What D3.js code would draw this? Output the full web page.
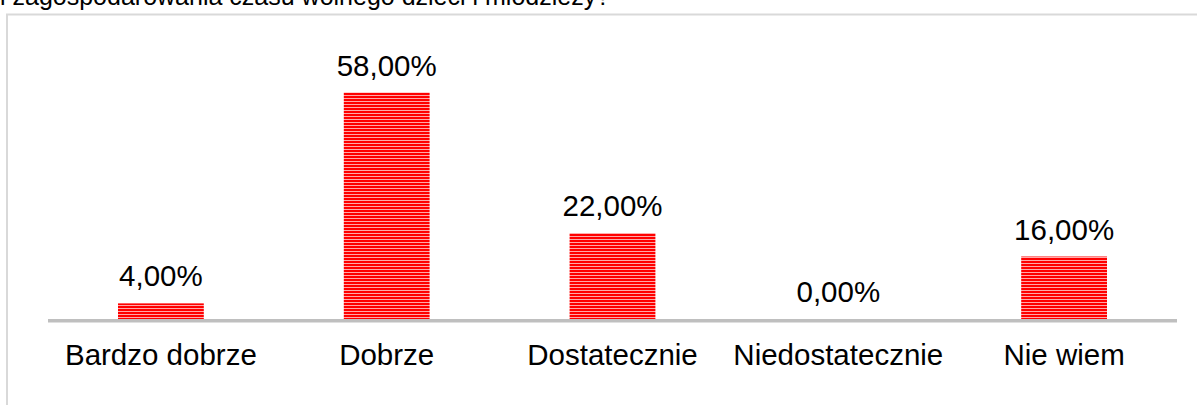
<!DOCTYPE html>
<html>
<head>
<meta charset="utf-8">
<script src="https://cdn.jsdelivr.net/npm/d3@7"></script>
<style>
  body { margin: 0; background: #fff; }
  svg { display: block; font-family: "Liberation Sans", Arial, sans-serif; }
</style>
</head>
<body>
<svg id="chart"></svg>
<script>
const categories = ["Bardzo dobrze", "Dobrze", "Dostatecznie", "Niedostatecznie", "Nie wiem"];
const values = [4, 58, 22, 0, 16];
const valueLabels = ["4,00%", "58,00%", "22,00%", "0,00%", "16,00%"];
const titleText = "i zagospodarowania czasu wolnego dzieci i młodzieży?";

const width = 1197;
const height = 405;
const baseline = 319;

const svg = d3.select("#chart")
  .attr("width", width)
  .attr("height", height);

// stripe pattern for the bars
const defs = svg.append("defs");
const pattern = defs.append("pattern")
  .attr("id", "stripes")
  .attr("patternUnits", "userSpaceOnUse")
  .attr("width", 8)
  .attr("height", 3);
pattern.append("rect")
  .attr("width", 8)
  .attr("height", 3)
  .attr("fill", "#ff0000");
pattern.append("rect")
  .attr("y", 2)
  .attr("width", 8)
  .attr("height", 1)
  .attr("fill", "#ffa8a8");

// title, cut off at the top like in the source
svg.append("text")
  .attr("x", 0)
  .attr("y", 5)
  .style("font-size", "25px")
  .text(titleText);

// chart frame (only left and top visible)
svg.append("path")
  .attr("d", `M7,${height} L7,14.5 L${width},14.5`)
  .attr("fill", "none")
  .attr("stroke", "#d9d9d9")
  .attr("stroke-width", 2);

const x = d3.scaleBand()
  .domain(categories)
  .range([48, 1177])
  .paddingInner(0.62)
  .paddingOuter(0.31);

const y = d3.scaleLinear()
  .domain([0, 58])
  .range([baseline, 92.5]);

svg.selectAll(".bar")
  .data(values)
  .enter()
  .append("rect")
  .attr("class", "bar")
  .attr("x", (d, i) => x(categories[i]))
  .attr("y", d => y(d))
  .attr("width", x.bandwidth())
  .attr("height", d => baseline - y(d))
  .attr("fill", "url(#stripes)");

// category axis line
svg.append("line")
  .attr("x1", 48)
  .attr("x2", 1177)
  .attr("y1", baseline + 1.8)
  .attr("y2", baseline + 1.8)
  .attr("stroke", "#bfbfbf")
  .attr("stroke-width", 3.6);

svg.selectAll(".value-label")
  .data(values)
  .enter()
  .append("text")
  .attr("class", "value-label")
  .attr("x", (d, i) => x(categories[i]) + x.bandwidth() / 2)
  .attr("y", d => y(d) - 17)
  .attr("text-anchor", "middle")
  .style("font-size", "29.5px")
  .text((d, i) => valueLabels[i]);

svg.selectAll(".cat-label")
  .data(categories)
  .enter()
  .append("text")
  .attr("class", "cat-label")
  .attr("x", d => x(d) + x.bandwidth() / 2)
  .attr("y", 365)
  .attr("text-anchor", "middle")
  .style("font-size", "29.5px")
  .text(d => d);
</script>
</body>
</html>
